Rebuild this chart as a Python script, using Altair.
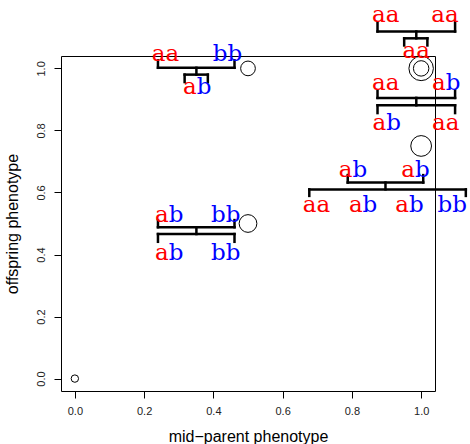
import altair as alt
import pandas as pd

# ---- open circles (mid-parent vs offspring) ----
pt_x = [0.0, 0.5, 0.5, 1.0, 1.0, 1.0]
pt_y = [0.0, 1.0, 0.5, 1.0, 1.0, 0.75]
pt_size = [55, 216, 314, 598, 238, 430]

# ---- genotype labels (centre x, baseline y) ----
lab_text = ["aa", "bb", "ab",
            "ab", "bb", "ab", "bb",
            "aa", "aa", "aa",
            "aa", "ab", "ab", "aa",
            "ab", "ab", "aa", "ab", "ab", "bb"]
lab_x = [0.262, 0.441, 0.352,
         0.271, 0.436, 0.271, 0.436,
         0.898, 1.069, 0.986,
         0.898, 1.071, 0.899, 1.071,
         0.802, 0.982, 0.698, 0.831, 0.965, 1.090]
lab_y = [1.024, 1.024, 0.919,
         0.505, 0.505, 0.383, 0.383,
         1.149, 1.149, 1.032,
         0.929, 0.929, 0.801, 0.801,
         0.650, 0.650, 0.536, 0.536, 0.536, 0.536]

# ---- brackets: left x, right x, bar y, tip y ----
br_x1 = [0.240, 0.317, 0.240, 0.240, 0.874, 0.951, 0.874, 0.874, 0.788, 0.677]
br_x2 = [0.461, 0.384, 0.461, 0.461, 1.098, 1.018, 1.098, 1.098, 1.006, 1.129]
br_y = [1.002, 0.980, 0.488, 0.466, 1.119, 1.097, 0.905, 0.881, 0.632, 0.610]
br_tip = [1.026, 0.956, 0.511, 0.441, 1.149, 1.074, 0.929, 0.856, 0.656, 0.589]

# ---- stems joining parent and offspring brackets ----
stem_x = [0.351, 0.351, 0.986, 0.986, 0.897]
stem_y1 = [1.002, 0.488, 1.119, 0.905, 0.632]
stem_y2 = [0.980, 0.466, 1.097, 0.881, 0.610]

# ---- build tables ----
points = pd.DataFrame({"x": pt_x, "y": pt_y, "s": pt_size})

chars = []
for t, x, y in zip(lab_text, lab_x, lab_y):
    chars.append({"x": x, "y": y, "c": t[0], "side": "first"})
    chars.append({"x": x, "y": y, "c": t[1], "side": "second"})
chars = pd.DataFrame(chars)

segs = []
for x1, x2, y, tip in zip(br_x1, br_x2, br_y, br_tip):
    segs.append({"x": x1, "x2": x2, "y": y, "y2": y})
    segs.append({"x": x1, "x2": x1, "y": y, "y2": tip})
    segs.append({"x": x2, "x2": x2, "y": y, "y2": tip})
for x, y1, y2 in zip(stem_x, stem_y1, stem_y2):
    segs.append({"x": x, "x2": x, "y": y1, "y2": y2})
segs = pd.DataFrame(segs)

xs = alt.Scale(domain=[-0.04, 1.04], nice=False, zero=False)
ys = alt.Scale(domain=[-0.04, 1.04], nice=False, zero=False)
ticks = [0.0, 0.2, 0.4, 0.6, 0.8, 1.0]

xaxis = alt.Axis(values=ticks, format=".1f", domain=False, grid=False,
                 tickSize=7, tickColor="black", tickWidth=1,
                 labelFont="Liberation Sans", labelFontSize=11, labelColor="#222222",
                 labelPadding=7, title="mid\u2212parent phenotype",
                 titleFont="Liberation Sans", titleFontSize=16,
                 titleFontWeight="normal", titleColor="black", titlePadding=12)
yaxis = alt.Axis(values=ticks, format=".1f", domain=False, grid=False,
                 tickSize=7, tickColor="black", tickWidth=1,
                 labelFont="Liberation Sans", labelFontSize=11, labelColor="#222222",
                 labelAngle=270, labelAlign="center", labelBaseline="bottom",
                 labelPadding=8, title="offspring phenotype",
                 titleFont="Liberation Sans", titleFontSize=16,
                 titleFontWeight="normal", titleColor="black", titlePadding=15)

circles = alt.Chart(points).mark_point(
    shape="circle", filled=False, color="black", strokeWidth=1, opacity=1
).encode(
    x=alt.X("x:Q", scale=xs, axis=xaxis),
    y=alt.Y("y:Q", scale=ys, axis=yaxis),
    size=alt.Size("s:Q", scale=None, legend=None),
)

rules = alt.Chart(segs).mark_rule(color="black", strokeWidth=2.5, strokeCap="square").encode(
    x="x:Q", x2="x2:Q", y="y:Q", y2="y2:Q"
)

color_scale = alt.Scale(domain=["a", "b"], range=["#FF0000", "#0000FF"])
first = alt.Chart(chars).transform_filter(alt.datum.side == "first").mark_text(
    align="right", baseline="alphabetic", font="DejaVu Serif", fontSize=23
).encode(x="x:Q", y="y:Q", text="c:N",
         color=alt.Color("c:N", scale=color_scale, legend=None))
second = alt.Chart(chars).transform_filter(alt.datum.side == "second").mark_text(
    align="left", baseline="alphabetic", font="DejaVu Serif", fontSize=23
).encode(x="x:Q", y="y:Q", text="c:N",
         color=alt.Color("c:N", scale=color_scale, legend=None))

chart = alt.layer(circles, rules, first, second).properties(
    width=374, height=335,
    background="white",
    padding={"left": 61, "top": 56, "right": 35, "bottom": 53},
    autosize=alt.AutoSizeParams(type="none"),
).configure_view(stroke="black", strokeWidth=1)

chart.save("out.html", embed_options={"renderer": "svg", "actions": False})
